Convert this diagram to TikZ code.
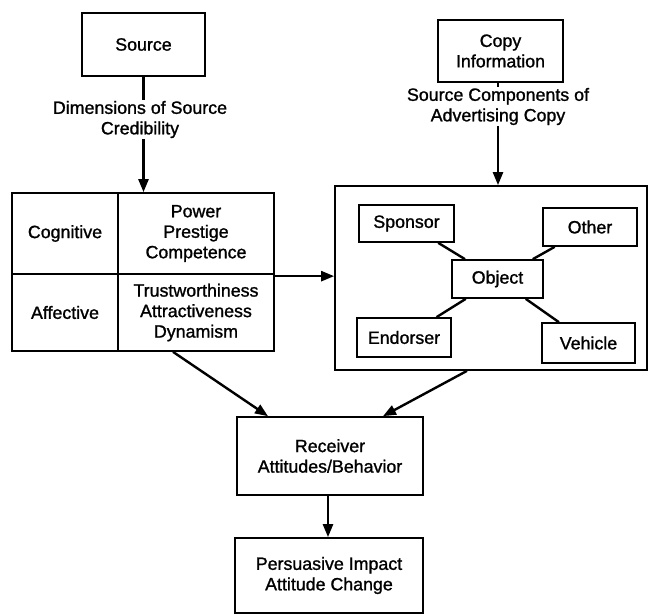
\documentclass[tikz,border=0pt]{standalone}
\usepackage{fontspec}
\setmainfont[FakeBold=1.2]{Liberation Sans}
\usetikzlibrary{arrows.meta,calc}
\begin{document}
\begin{tikzpicture}[x=1pt,y=-1pt,
  every node/.style={font=\fontsize{17.8}{20.5}\selectfont, align=center},
  box/.style={draw, line width=1.7pt, inner sep=0pt},
  lbl/.style={inner sep=1pt},
  arr/.style={line width=2.4pt, -{Triangle[length=13pt,width=10pt]}},
  ln/.style={line width=2.4pt}]
\useasboundingbox (0,0) rectangle (650,615);
% top boxes
\node[box, minimum width=123pt, minimum height=63pt] (src) at (143.5,44.5) {Source};
\node[box, minimum width=125pt, minimum height=62pt] (copy) at (500.5,51) {Copy\\Information};
% labels
\node[lbl] (lab1) at (140,119.5) {Dimensions of Source\\Credibility};
\node[lbl] (lab2) at (498,106.5) {Source Components of\\Advertising Copy};
% table
\node[box, minimum width=106pt, minimum height=81pt] (cog) at (65,233.5) {Cognitive};
\node[box, minimum width=156pt, minimum height=81pt] (pow) at (196,233.5) {Power\\Prestige\\Competence};
\node[box, minimum width=106pt, minimum height=77pt] (aff) at (65,312.5) {Affective};
\node[box, minimum width=156pt, minimum height=77pt] (trust) at (196,312.5) {Trustworthiness\\Attractiveness\\Dynamism};
% right box
\node[box, minimum width=312pt, minimum height=184pt] (rbox) at (491,278) {};
\node[box, minimum width=95pt, minimum height=37pt] (spon) at (406.5,223.5) {Sponsor};
\node[box, minimum width=94pt, minimum height=38pt] (other) at (590,227) {Other};
\node[box, minimum width=91pt, minimum height=38pt] (obj) at (497.5,279) {Object};
\node[box, minimum width=94pt, minimum height=39pt] (endo) at (404,337.5) {Endorser};
\node[box, minimum width=93pt, minimum height=40pt] (veh) at (588.5,343) {Vehicle};
% bottom boxes
\node[box, minimum width=186pt, minimum height=78pt] (recv) at (330,456) {Receiver\\Attitudes/Behavior};
\node[box, minimum width=188pt, minimum height=75pt] (pers) at (329,575.5) {Persuasive Impact\\Attitude Change};
% connectors
\draw[ln] (src.south) -- (src.south |- lab1.north);
\draw[arr] (src.south |- lab1.south) -- (src.south |- pow.north);
\draw[ln] (copy.south -| lab2.north) -- (lab2.north);
\draw[arr] (lab2.south) -- (lab2.south |- rbox.north);
\draw[arr] ([yshift=-3pt]trust.north east) -- ([yshift=-3pt]trust.north east -| rbox.west);
\draw[ln] (spon) -- (obj);
\draw[ln] (other) -- (obj);
\draw[ln] (endo) -- (obj);
\draw[ln] (veh) -- (obj);
\draw[arr] ([xshift=-23pt]trust.south) -- ([xshift=-62pt]recv.north);
\draw[arr] ([xshift=-24pt]rbox.south) -- ([xshift=53pt]recv.north);
\draw[arr] ([xshift=-2pt]recv.south) -- ([xshift=-1pt]pers.north);
\end{tikzpicture}
\end{document}
